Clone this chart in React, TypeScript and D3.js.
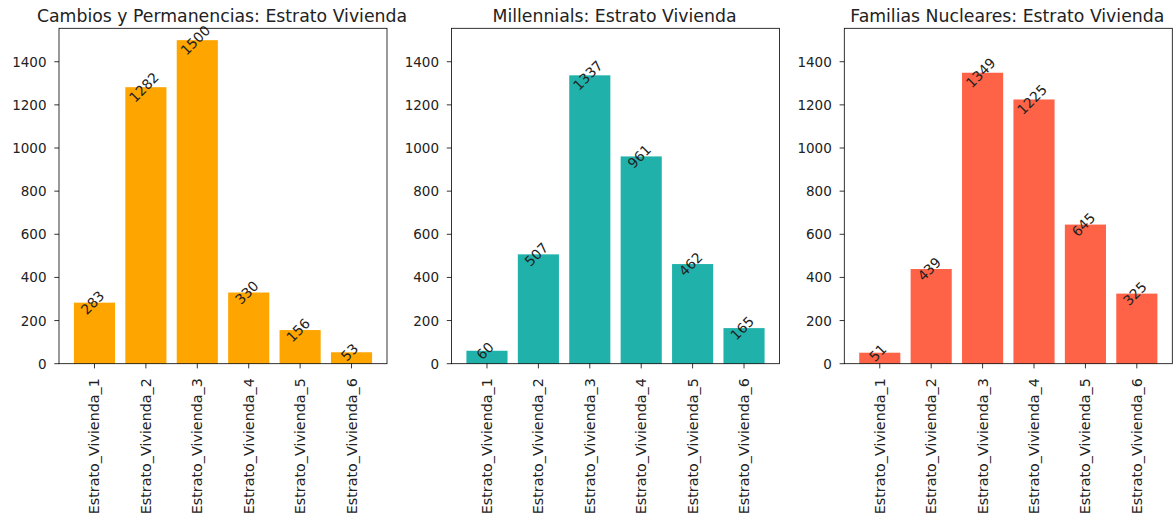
import React from "react";
import * as d3 from "d3";

const categories = [
  "Estrato_Vivienda_1",
  "Estrato_Vivienda_2",
  "Estrato_Vivienda_3",
  "Estrato_Vivienda_4",
  "Estrato_Vivienda_5",
  "Estrato_Vivienda_6",
];
const titles = [
  "Cambios y Permanencias: Estrato Vivienda",
  "Millennials: Estrato Vivienda",
  "Familias Nucleares: Estrato Vivienda",
];
const cambiosValues = [283, 1282, 1500, 330, 156, 53];
const millennialsValues = [60, 507, 1337, 961, 462, 165];
const familiasValues = [51, 439, 1349, 1225, 645, 325];
const colors = ["#FFA500", "#20B2AA", "#FF6347"];
const yTicks = [0, 200, 400, 600, 800, 1000, 1200, 1400];
const yMax = 1555;

const panelLefts = [59, 451.5, 844.3];
const panelWidth = 328;
const top = 28.3;
const bottom = 363.7;
const FONT = "DejaVu Sans, sans-serif";
const INK = "#222";

function Panel({ left, title, values, color }: { left: number; title: string; values: number[]; color: string }) {
  const n = values.length;
  const x = d3.scaleLinear().domain([-0.69, n - 1 + 0.69]).range([left, left + panelWidth]);
  const y = d3.scaleLinear().domain([0, yMax]).range([bottom, top]);
  const bw = x(0.4) - x(-0.4);
  return (
    <g>
      <text x={left + panelWidth / 2 - 1} y={21.5} textAnchor="middle" fontSize={17.3} fontFamily={FONT} fill={INK}>
        {title}
      </text>
      {values.map((v, i) => (
        <rect key={i} x={x(i) - bw / 2} y={y(v)} width={bw} height={y(0) - y(v)} fill={color} />
      ))}
      {values.map((v, i) => (
        <text
          key={"l" + i}
          transform={`translate(${x(i) - 2},${y(v)}) rotate(-45)`}
          textAnchor="middle"
          dominantBaseline="central"
          fontSize={13.8}
          fontFamily={FONT}
          fill={INK}
        >
          {v}
        </text>
      ))}
      <rect x={left} y={top} width={panelWidth} height={bottom - top} fill="none" stroke="#000" strokeWidth={0.8} />
      {yTicks.map((t) => (
        <g key={"y" + t}>
          <line x1={left - 4.7} x2={left} y1={y(t)} y2={y(t)} stroke="#000" strokeWidth={0.8} />
          <text x={left - 12.5} y={y(t)} textAnchor="end" dominantBaseline="central" fontSize={13.5} fontFamily={FONT} fill={INK}>
            {t}
          </text>
        </g>
      ))}
      {categories.map((c, i) => (
        <g key={"x" + i}>
          <line x1={x(i)} x2={x(i)} y1={bottom} y2={bottom + 4.7} stroke="#000" strokeWidth={0.8} />
          <text
            transform={`translate(${x(i)},${bottom + 14.5}) rotate(-90)`}
            textAnchor="end"
            dominantBaseline="central"
            fontSize={14.3}
            fontFamily={FONT}
            fill={INK}
          >
            {c}
          </text>
        </g>
      ))}
    </g>
  );
}

export default function App() {
  const series = [cambiosValues, millennialsValues, familiasValues];
  return (
    <svg
      width={1173}
      height={522}
      style={{ position: "absolute", left: 0, top: 0, background: "#fff" }}
    >
      <rect width={1173} height={522} fill="#fff" />
      {series.map((vals, k) => (
        <Panel key={k} left={panelLefts[k]} title={titles[k]} values={vals} color={colors[k]} />
      ))}
    </svg>
  );
}
